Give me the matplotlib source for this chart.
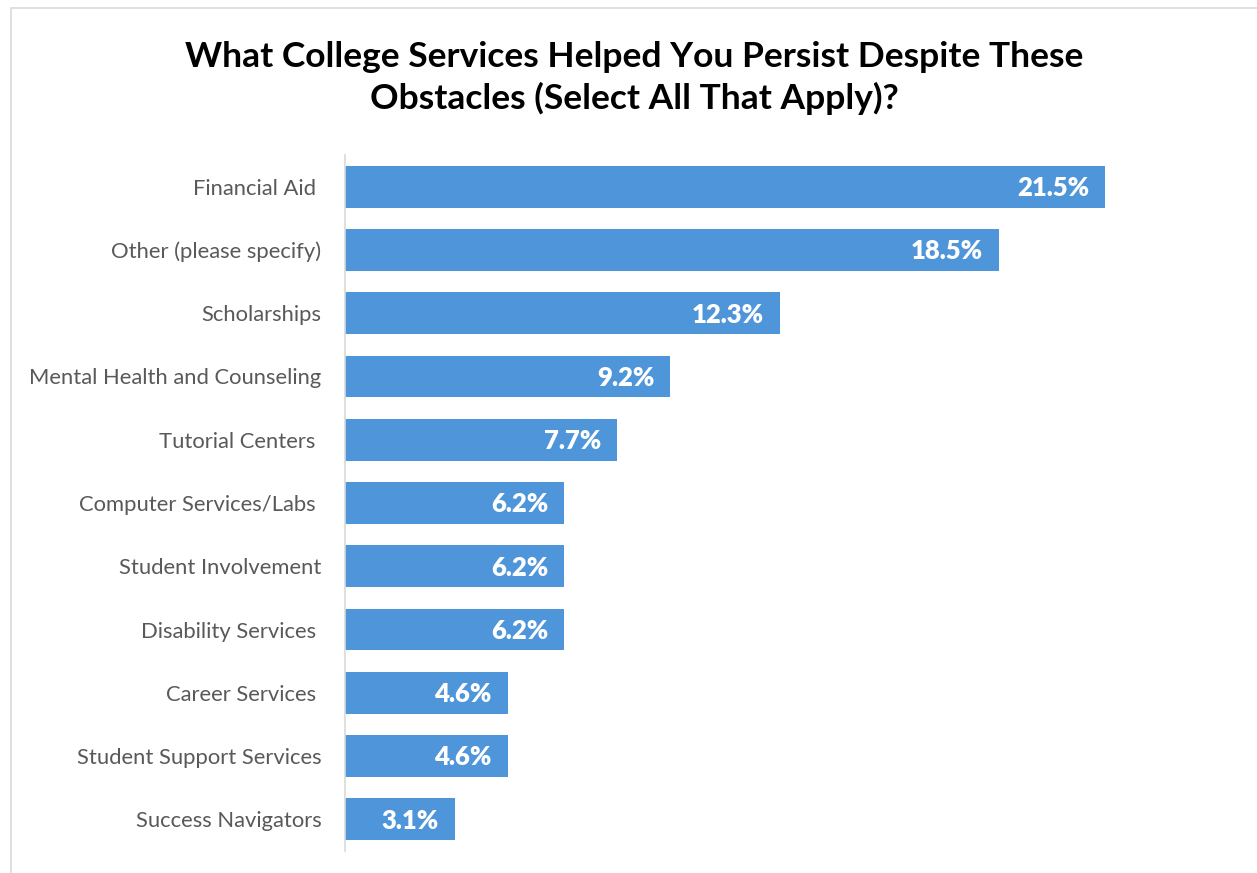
import matplotlib.pyplot as plt
from matplotlib.patches import Rectangle

# --- Data ---
services = [
    "Financial Aid ",
    "Other (please specify)",
    "Scholarships",
    "Mental Health and Counseling",
    "Tutorial Centers ",
    "Computer Services/Labs ",
    "Student Involvement",
    "Disability Services ",
    "Career Services ",
    "Student Support Services",
    "Success Navigators",
]
pct = [21.5, 18.5, 12.3, 9.2, 7.7, 6.2, 6.2, 6.2, 4.6, 4.6, 3.1]

BAR_COLOR = "#4f95d9"
W, H = 1257, 873

plt.rcParams['font.family'] = ['Lato', 'DejaVu Sans']

fig = plt.figure(figsize=(W / 100, H / 100), dpi=100)

# outer frame (only left and top edges show in the reference)
fig.patches.append(Rectangle((11 / W, -0.1), 1.2, 1 - 8 / H + 0.1,
                             transform=fig.transFigure, fill=False,
                             edgecolor="#d9d9d9", linewidth=1.2))

# axes placed in pixel terms
left, right = 345, 345 + 22 * 35.35
top, bottom = 155, 851
ax = fig.add_axes([left / W, 1 - bottom / H, (right - left) / W, (bottom - top) / H])

y = list(range(len(services)))
ax.barh(y, pct, height=0.66, color=BAR_COLOR)
ax.set_xlim(0, 22)
ax.set_ylim(len(services) - 0.5, -0.5)

ax.set_yticks(y)
ax.set_yticklabels(services, fontsize=15.8, color="#595959")
ax.tick_params(axis="y", length=0, pad=17)
ax.set_xticks([])

for s in ["top", "right", "bottom"]:
    ax.spines[s].set_visible(False)
ax.spines["left"].set_color("#d9d9d9")
ax.spines["left"].set_linewidth(1.2)

for yi, v in zip(y, pct):
    ax.annotate(f"{v}%", xy=(v, yi), xytext=(-11.5, -1), textcoords="offset points",
                ha="right", va="center", color="white", fontsize=18.5,
                fontweight="heavy")

fig.text(0.5 * (1 + 11 / W), 1 - 78 / H,
         "What College Services Helped You Persist Despite These\nObstacles (Select All That Apply)?",
         ha="center", va="center", fontsize=25.5, fontweight="bold",
         color="black", linespacing=1.35)

fig.savefig("out.png", dpi=100)
